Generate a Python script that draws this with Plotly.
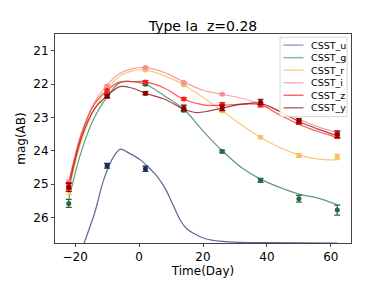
import plotly.graph_objects as go

# observation epochs (days)
obs_t = [-22, -10, 2, 14, 26, 38, 50, 62]

# observed magnitudes per band
u_t = [-10, 2]
u_mag = [24.45, 24.54]
u_err = [0.07, 0.08]

g_mag = [25.58, 22.36, 22.0, 22.78, 24.02, 24.89, 25.44, 25.78]
g_err = [0.12, 0.04, 0.03, 0.04, 0.04, 0.06, 0.1, 0.15]
r_mag = [25.2, 22.12, 21.57, 22.02, 22.8, 23.59, 24.14, 24.18]
r_err = [0.12, 0.03, 0.03, 0.03, 0.04, 0.04, 0.06, 0.07]
i_mag = [24.95, 22.05, 21.5, 21.95, 22.3, 22.6, 23.08, 23.48]
i_err = [0.08, 0.03, 0.03, 0.03, 0.03, 0.04, 0.05, 0.06]
z_mag = [25.05, 22.19, 21.93, 22.44, 22.6, 22.62, 23.15, 23.55]
z_err = [0.1, 0.04, 0.04, 0.04, 0.05, 0.06, 0.06, 0.08]
y_mag = [25.1, 22.35, 22.27, 22.71, 22.71, 22.53, 23.1, 23.5]
y_err = [0.12, 0.06, 0.05, 0.08, 0.08, 0.08, 0.07, 0.1]

# model light curves
u_ct = [-18.5, -14, -11, -8, -5.8, -3.7, 0.5, 3, 5.5, 8, 10.5, 13, 15, 17.5, 21, 26, 32, 40, 62]
u_cm = [27.1, 25.9, 24.85, 24.18, 23.95, 24.04, 24.28, 24.5, 24.75, 25.1, 25.6, 26.1, 26.35, 26.5, 26.65, 26.72, 26.75, 26.76, 26.77]

c_t = [-22, -18, -14, -10, -6, -2, 2, 8, 14, 20, 26, 32, 38, 44, 50, 56, 62]
g_cm = [25.45, 24.0, 23.0, 22.38, 21.95, 21.92, 22.0, 22.35, 22.75, 23.4, 24.0, 24.5, 24.85, 25.1, 25.3, 25.42, 25.62]
r_cm = [25.2, 23.7, 22.75, 22.15, 21.75, 21.6, 21.57, 21.75, 22.02, 22.4, 22.8, 23.22, 23.6, 23.9, 24.12, 24.25, 24.27]
i_cm = [24.95, 23.45, 22.55, 22.02, 21.67, 21.53, 21.5, 21.65, 21.93, 22.18, 22.3, 22.42, 22.58, 22.8, 23.05, 23.28, 23.45]
z_cm = [24.98, 23.5, 22.6, 22.18, 21.93, 21.92, 21.93, 22.12, 22.45, 22.62, 22.63, 22.6, 22.62, 22.92, 23.2, 23.42, 23.6]
y_ct = [-22, -18, -14, -10, -6, -2, 2, 8, 14, 18, 22, 26, 32, 38, 44, 50, 56, 62]
y_cm = [25.12, 23.6, 22.75, 22.35, 22.07, 22.12, 22.27, 22.45, 22.75, 22.85, 22.8, 22.72, 22.6, 22.57, 22.82, 23.12, 23.35, 23.55]

band_names = ["CSST_u", "CSST_g", "CSST_r", "CSST_i", "CSST_z", "CSST_y"]
point_colors = ["#1c2a5e", "#226b43", "#fdbd5a", "#f59090", "#ff1a1a", "#8b0000"]
line_colors = ["rgba(40,52,110,0.75)", "rgba(46,120,80,0.75)", "rgba(253,190,95,0.85)",
               "rgba(245,140,140,0.8)", "rgba(255,40,40,0.8)", "rgba(140,20,20,0.8)"]
legend_colors = ["rgba(40,52,110,0.45)", "rgba(46,120,80,0.55)", "rgba(253,190,95,0.7)",
                 "rgba(245,140,140,0.65)", "rgba(255,40,40,0.7)", "rgba(140,20,20,0.6)"]

curves = [(u_ct, u_cm), (c_t, g_cm), (c_t, r_cm), (c_t, i_cm), (c_t, z_cm), (y_ct, y_cm)]
obs = [(u_t, u_mag, u_err), (obs_t, g_mag, g_err), (obs_t, r_mag, r_err),
       (obs_t, i_mag, i_err), (obs_t, z_mag, z_err), (obs_t, y_mag, y_err)]

fig = go.Figure()
for k, name in enumerate(band_names):
    ct, cm = curves[k]
    fig.add_trace(go.Scatter(x=ct, y=cm, mode="lines", name=name, showlegend=False,
                             line=dict(color=line_colors[k], width=1.2, shape="spline", smoothing=1.0)))
for k, name in enumerate(band_names):
    ot, om, oe = obs[k]
    fig.add_trace(go.Scatter(x=ot, y=om, mode="markers", name=name, showlegend=False,
                             marker=dict(color=point_colors[k], size=5, symbol="circle"),
                             error_y=dict(type="data", array=oe, color=point_colors[k], thickness=1.2, width=3)))

# page body has an 8px margin: target plot area in the screenshot is x 47..343, y 34..254
BODY = 8
W, H, X0, Y0 = 296.0, 220.0, 47.0, 34.0
def px(x):
    return (x - X0) / W
def py(y):
    return (Y0 + H - y) / H

shapes = [dict(type="rect", xref="paper", yref="paper", x0=px(272), x1=px(339), y0=py(121), y1=py(37.5),
               line=dict(color="#d6d6d6", width=1), fillcolor="rgba(255,255,255,0.9)", layer="above")]
annotations = []
for k, name in enumerate(band_names):
    yy = 45.7 + k * 13.2
    shapes.append(dict(type="line", xref="paper", yref="paper", x0=px(275.5), x1=px(295.5), y0=py(yy), y1=py(yy),
                       line=dict(color=legend_colors[k], width=1.5), layer="above"))
    annotations.append(dict(xref="paper", yref="paper", x=px(300.5), y=py(yy), xanchor="left", yanchor="middle",
                            text=name, showarrow=False, font=dict(size=9.5, color="black")))

fig.update_layout(
    width=381 - BODY, height=286 - BODY,
    margin=dict(l=47 - BODY, r=381 - 343 - BODY, t=34 - BODY, b=286 - 254 - BODY),
    paper_bgcolor="white", plot_bgcolor="white",
    font=dict(family="DejaVu Sans", color="black", size=12),
    title=dict(text="Type Ia\u00a0\u00a0z=0.28", x=0.5, xanchor="center", xref="paper",
               y=1, yref="paper", yanchor="bottom", pad=dict(b=3), font=dict(size=14)),
    showlegend=False,
    shapes=shapes, annotations=annotations,
    xaxis=dict(range=[-26.3, 66.3], tickvals=[-20, 0, 20, 40, 60], ticks="outside", ticklen=3,
               showline=True, linecolor="#444", linewidth=1, mirror=True, showgrid=False, zeroline=False,
               title=dict(text="Time(Day)", standoff=1, font=dict(size=12)), tickfont=dict(size=12)),
    yaxis=dict(range=[26.77, 20.49], tickvals=[21, 22, 23, 24, 25, 26], ticks="outside", ticklen=3,
               showline=True, linecolor="#444", linewidth=1, mirror=True, showgrid=False, zeroline=False,
               title=dict(text="mag(AB)", standoff=5, font=dict(size=12)), tickfont=dict(size=12)),
)

fig.write_html("out.html")
